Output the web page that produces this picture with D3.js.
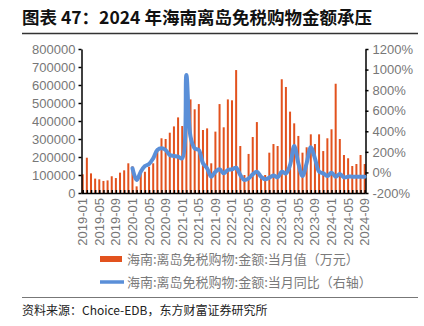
<!DOCTYPE html>
<html>
<head>
<meta charset="utf-8">
<script src="https://cdn.jsdelivr.net/npm/d3@7"></script>
<style>
  body { margin: 0; background: #fff; }
  svg { display: block; }
  text { font-family: "Liberation Sans", Arial, sans-serif; }
  .cjk { font-family: "Noto Sans CJK SC", sans-serif; }
</style>
</head>
<body>
<div id="chart"></div>
<script>
// 月份（2019-01 至 2024-09）
var months = [];
for (var y = 2019; y <= 2024; y++) {
  for (var m = 1; m <= 12; m++) {
    if (y === 2024 && m > 9) break;
    months.push(y + "-" + (m < 10 ? "0" + m : m));
  }
}

// 当月值（万元）
var salesValue = [
  104000, 196000, 109000, 80000, 76000, 67000, 70000, 93000, 83000, 113000, 126000, 165000,
  148000, 37000, 110000, 118000, 146000, 165000, 235000, 304000, 300000, 335000, 370000, 420000,
  372000, 390000, 520000, 465000, 494000, 350000, 359000, 165000, 341000, 494000, 365000, 520000,
  515000, 683000, 261000, 100000, 217000, 311000, 394000, 95000, 100000, 224000, 272000, 261000,
  632000, 589000, 452000, 387000, 317000, 224000, 254000, 326000, 272000, 326000, 233000, 304000,
  354000, 607000, 300000, 211000, 193000, 150000, 161000, 211000, 161000
];

// 当月同比（%，右轴），2020-01 起
var yoyValue = [
  40, -74, 7, 62, 82, 137, 218, 234, 218, 169, 160, 153,
  137, 947, 348, 234, 218, 89, 40, -41, 7, 30, -9, 24,
  30, 46, -25, -74, -58, -19, 7, -41, -67, -51, -29, -48,
  7, -9, 72, 257, 89, -35, 89, 244, 137, 7, -9, -35,
  -3, -41, -15, -48, -41, -41, -41, -41, -41
];
var yoyStart = 12;

var leftTicks = [0, 100000, 200000, 300000, 400000, 500000, 600000, 700000, 800000];
var rightTicks = [-200, 0, 200, 400, 600, 800, 1000, 1200];
var labelMonths = months.filter(function (d, i) { return i % 4 === 0; });

var title = "图表 47：2024 年海南离岛免税购物金额承压";
var legendNames = ["海南:离岛免税购物:金额:当月值（万元）", "海南:离岛免税购物:金额:当月同比（右轴）"];
var source = "资料来源：Choice-EDB，东方财富证券研究所";

var width = 424, height = 326;
var barColor = "#E2521E", lineColor = "#5A8FD8";

var svg = d3.select("#chart").append("svg")
  .attr("width", width).attr("height", height);

// 标题
svg.append("text").attr("class", "cjk")
  .attr("x", 22).attr("y", 24)
  .attr("font-size", 17.5).attr("font-weight", "bold").attr("fill", "#111")
  .text(title);
svg.append("line").attr("x1", 22).attr("x2", 418).attr("y1", 33.5).attr("y2", 33.5)
  .attr("stroke", "#333").attr("stroke-width", 1.5);

// 比例尺
var x = d3.scalePoint().domain(months).range([82.7, 364.7]);
var yL = d3.scaleLinear().domain([0, 800000]).range([193, 49]);
var yR = d3.scaleLinear().domain([-200, 1200]).range([193, 49]);

// 柱子
svg.append("g").selectAll("rect")
  .data(salesValue)
  .enter().append("rect")
  .attr("x", function (d, i) { return x(months[i]) - 1; })
  .attr("y", function (d) { return yL(d); })
  .attr("width", 2)
  .attr("height", function (d) { return yL(0) - yL(d); })
  .attr("fill", barColor);

// 左轴
var gL = svg.append("g").attr("transform", "translate(81.5,0)")
  .call(d3.axisLeft(yL).tickValues(leftTicks).tickSizeInner(3).tickSizeOuter(0)
    .tickFormat(function (d) { return String(d); }));
gL.select(".domain").attr("stroke", "#000").attr("stroke-width", 1.5);
gL.selectAll(".tick line").attr("stroke", "#000").attr("stroke-width", 1.5);
gL.selectAll(".tick text").attr("font-size", 13).attr("fill", "#777").attr("x", -6)
  .attr("font-family", "Liberation Sans, Arial, sans-serif");

// 右轴
var gR = svg.append("g").attr("transform", "translate(365.5,0)")
  .call(d3.axisRight(yR).tickValues(rightTicks).tickSizeInner(3).tickSizeOuter(0)
    .tickFormat(function (d) { return d + "%"; }));
gR.select(".domain").attr("stroke", "#000").attr("stroke-width", 1.5);
gR.selectAll(".tick line").attr("stroke", "#000").attr("stroke-width", 1.5);
gR.selectAll(".tick text").attr("font-size", 13).attr("fill", "#777").attr("x", 7)
  .attr("font-family", "Liberation Sans, Arial, sans-serif");

// 底轴
var gB = svg.append("g").attr("transform", "translate(0,193)")
  .call(d3.axisBottom(x).tickSizeInner(-3).tickSizeOuter(0).tickFormat(""));
gB.select(".domain").attr("stroke", "#000").attr("stroke-width", 1.5)
  .attr("d", "M81.5,0.5H365.5");
gB.selectAll(".tick line").attr("stroke", "#000").attr("stroke-width", 1.5);

svg.append("g").selectAll("text")
  .data(labelMonths)
  .enter().append("text")
  .attr("transform", function (d) { return "translate(" + (x(d) + 4.5) + ",198) rotate(-90)"; })
  .attr("text-anchor", "end")
  .attr("font-size", 13).attr("fill", "#777")
  .text(function (d) { return d; });

// 同比折线
var line = d3.line()
  .x(function (d, i) { return x(months[i + yoyStart]); })
  .y(function (d) { return yR(d); })
  .curve(d3.curveCatmullRom.alpha(0.5));
svg.append("path").datum(yoyValue)
  .attr("d", line)
  .attr("fill", "none")
  .attr("stroke", lineColor)
  .attr("stroke-width", 4)
  .attr("stroke-linejoin", "round")
  .attr("stroke-linecap", "round");

// 图例
svg.append("rect").attr("x", 100).attr("y", 256).attr("width", 22).attr("height", 6).attr("fill", barColor);
svg.append("line").attr("x1", 100).attr("x2", 124).attr("y1", 282).attr("y2", 282)
  .attr("stroke", lineColor).attr("stroke-width", 3.5);
svg.append("g").selectAll("text")
  .data(legendNames)
  .enter().append("text").attr("class", "cjk")
  .attr("x", 127)
  .attr("y", function (d, i) { return 264 + i * 23; })
  .attr("font-size", 13).attr("fill", "#7a7a7a")
  .text(function (d) { return d; });

// 来源
svg.append("line").attr("x1", 22).attr("x2", 418).attr("y1", 297.5).attr("y2", 297.5)
  .attr("stroke", "#777").attr("stroke-width", 1.2);
svg.append("text").attr("class", "cjk")
  .attr("x", 22).attr("y", 315)
  .attr("font-size", 12).attr("fill", "#222")
  .text(source);
</script>
</body>
</html>
